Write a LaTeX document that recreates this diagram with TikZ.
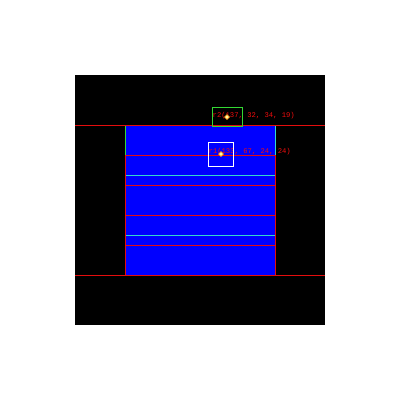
\documentclass[tikz,border=0pt]{standalone}
\usepackage{fontspec}
\setmonofont{Liberation Mono}
\definecolor{edgered}{rgb}{0.9,0.05,0.05}
\definecolor{edgecyan}{rgb}{0.2,0.85,0.8}
\definecolor{edgegreen}{rgb}{0.2,0.85,0.2}
\definecolor{textred}{rgb}{0.95,0.05,0.05}
\definecolor{markfill}{rgb}{1,1,0.6}
\definecolor{markedge}{rgb}{1,0.5,0}
\begin{document}
\begin{tikzpicture}[x=1pt,y=-1pt,
  redline/.style={edgered,line width=1pt},
  cyanline/.style={edgecyan,line width=1pt},
  greenline/.style={edgegreen,line width=1pt},
  lbl/.style={color=textred,font=\ttfamily\fontsize{7.2}{8}\selectfont,inner sep=0pt,anchor=west}]
\useasboundingbox (0,0) rectangle (400,400);
\fill[white] (0,0) rectangle (400,400);
\fill[black] (75,75) rectangle (325,325);
\fill[blue] (125,125) rectangle (276,276);
% labels first
\node[lbl] (r2) at (212.5,116) {r2(137, 32, 34, 19)};
\node[lbl] (r1) at (208.5,152) {r1(133, 67, 24, 24)};
% horizontal lines
\draw[redline] (75,125.5) -- (325,125.5);
\draw[redline] (75,275.5) -- (325,275.5);
\draw[redline] (125,155.5) -- (276,155.5);
\draw[cyanline] (125,175.5) -- (276,175.5);
\draw[redline] (125,185.5) -- (276,185.5);
\draw[redline] (125,215.5) -- (276,215.5);
\draw[cyanline] (125,235.5) -- (276,235.5);
\draw[redline] (125,245.5) -- (276,245.5);
% vertical edges
\draw[greenline] (125.5,126) -- (125.5,155);
\draw[redline] (125.5,155) -- (125.5,275);
\draw[cyanline] (275.5,126) -- (275.5,155);
\draw[redline] (275.5,155) -- (275.5,275);
% boxes
\draw[greenline] (212.5,107.5) rectangle (242.5,126.5);
\draw[white,line width=1pt] (208.5,142.5) rectangle (233.5,166.5);
% markers
\coordinate (m2) at (227,117);
\coordinate (m1) at (221,154);
\filldraw[fill=markfill,draw=markedge,line width=0.6pt] ([yshift=-2.5pt]m2) -- ([xshift=2.5pt]m2) -- ([yshift=2.5pt]m2) -- ([xshift=-2.5pt]m2) -- cycle;
\filldraw[fill=markfill,draw=markedge,line width=0.6pt] ([yshift=-2.5pt]m1) -- ([xshift=2.5pt]m1) -- ([yshift=2.5pt]m1) -- ([xshift=-2.5pt]m1) -- cycle;
\end{tikzpicture}
\end{document}
